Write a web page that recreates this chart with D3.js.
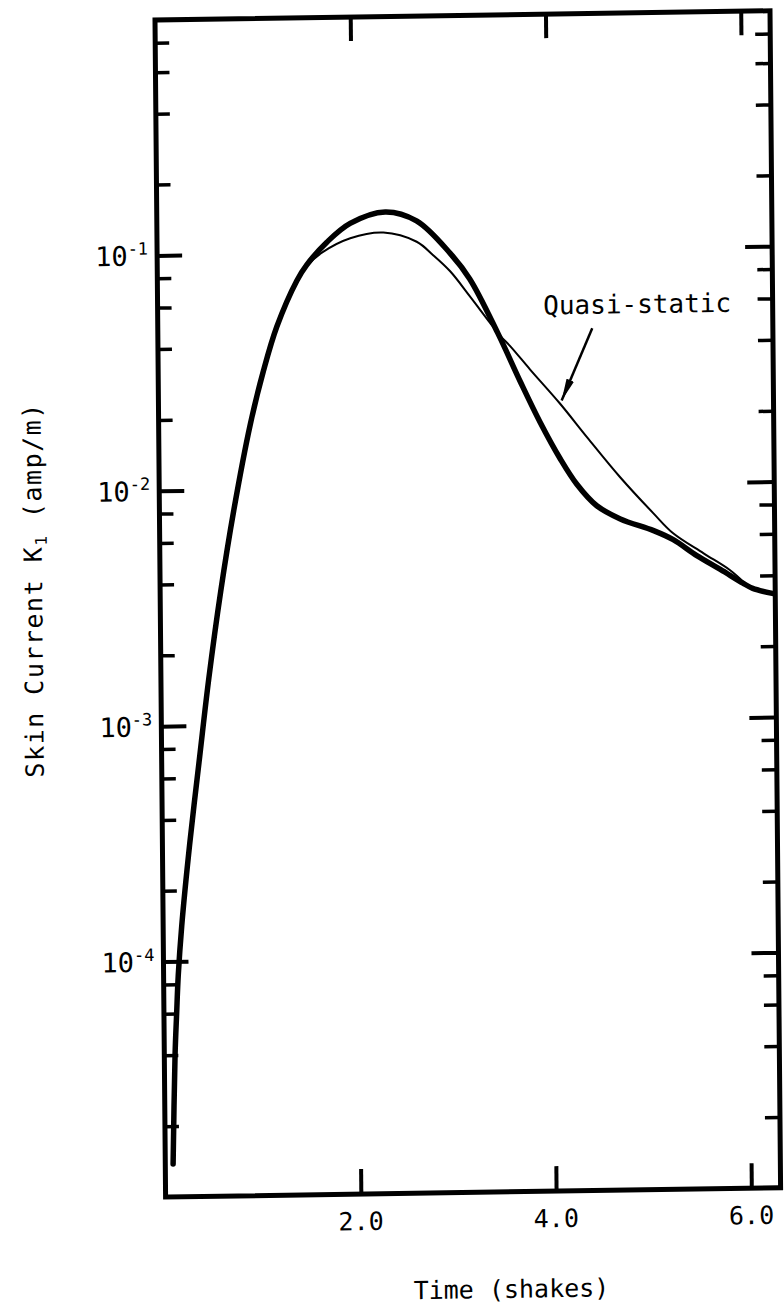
<!DOCTYPE html>
<meta charset="utf-8">
<style>
  body { margin: 0; background: #fff; }
  text { font-family: "DejaVu Sans Mono", monospace; fill: #000; }
  .frame { fill: none; stroke: #000; stroke-width: 5; }
  .major line { stroke: #000; stroke-width: 4; }
  .minor line { stroke: #000; stroke-width: 3.5; }
  .exact { fill: none; stroke: #000; stroke-width: 5.5; stroke-linejoin: round; stroke-linecap: round; }
  .quasi { fill: none; stroke: #000; stroke-width: 2; stroke-linejoin: round; }
</style>

<svg width="784" height="1315"></svg>

<script src="https://d3js.org/d3.v7.min.js"></script>
<script>
  // time in shakes, skin current in amp/m
  var exactT = [0.08, 0.11, 0.13, 0.15, 0.19, 0.28, 0.39, 0.49, 0.62, 0.76, 0.94, 1.08, 1.22, 1.43, 1.53,
    1.74, 1.98, 2.34, 2.66, 3.00, 3.20, 3.48, 3.71, 3.91, 4.11, 4.28, 4.48, 4.72, 5.06, 5.26,
    5.50, 5.74, 5.97, 6.07, 6.27];
  var exactK = [1.38e-5, 4.0e-5, 6.0e-5, 8.7e-5, 1.41e-4, 3.16e-4, 7.4e-4, 1.58e-3, 3.7e-3, 8.1e-3, 1.9e-2, 3.2e-2, 4.9e-2, 7.67e-2, 8.9e-2,
    0.111, 0.133, 0.148, 0.135, 0.098, 0.0759, 0.0447, 0.0275, 0.0184, 0.0129, 0.0100, 0.0081, 0.0071, 0.0063, 0.00575,
    0.0049, 0.00427, 0.00372, 0.00353, 0.00335];

  var quasiT = [0.08, 0.11, 0.13, 0.15, 0.19, 0.28, 0.39, 0.49, 0.62, 0.76, 0.94, 1.08, 1.22, 1.43, 1.53,
    1.70, 1.98, 2.32, 2.66, 2.83, 3.00, 3.20, 3.40, 3.51, 3.61, 3.81, 4.11, 4.39, 4.72, 5.06,
    5.26, 5.57, 5.84, 5.99];
  var quasiK = [1.38e-5, 4.0e-5, 6.0e-5, 8.7e-5, 1.41e-4, 3.16e-4, 7.4e-4, 1.58e-3, 3.7e-3, 8.1e-3, 1.9e-2, 3.2e-2, 4.9e-2, 7.67e-2, 8.8e-2,
    0.101, 0.115, 0.121, 0.110, 0.096, 0.082, 0.064, 0.0495, 0.0432, 0.0390, 0.0310, 0.0222, 0.0158, 0.0107, 0.00746,
    0.00612, 0.00501, 0.00423, 0.00372];

  var xTicks = [2, 4, 6];
  var xTickLabels = ["2.0", "4.0", "6.0"];
  var yDecades = [-1, -2, -3, -4];
  var minorSteps = [2, 4, 6, 8];

  // arrow for the label, in data units
  var arrowFrom = [4.45, 0.046], arrowTo = [4.13, 0.0228];
  var labelAt = [3.95, 0.053];

  var svg = d3.select("svg"),
    width = 615,
    height = 1177;

  // the scanned page sits a little crooked, so the plot frame is sheared to match
  var g = svg.append("g").attr("transform", "matrix(1,-0.015,0.009,1,155,20)");

  var x = d3.scaleLinear().domain([0, 6.3]).range([0, width]);
  var y = d3.scaleLog().domain([1e-5, 1]).range([height, 0]);

  var majorY = yDecades.map(function (e) { return Math.pow(10, e); });
  var minorY = [];
  [-5, -4, -3, -2, -1].forEach(function (e) {
    minorSteps.forEach(function (m) { minorY.push(m * Math.pow(10, e)); });
  });

  function ticks(axis, cls, tx, ty) {
    var a = g.append("g").attr("class", cls)
      .attr("transform", "translate(" + tx + "," + ty + ")")
      .call(axis.tickFormat(""));
    a.select(".domain").remove();
  }

  ticks(d3.axisLeft(y).tickValues(majorY).tickSize(-25), "major", 0, 0);
  ticks(d3.axisLeft(y).tickValues(minorY).tickSize(-14), "minor", 0, 0);
  ticks(d3.axisRight(y).tickValues(majorY).tickSize(-27), "major", width, 0);
  ticks(d3.axisRight(y).tickValues(minorY).tickSize(-15), "minor", width, 0);
  ticks(d3.axisTop(x).tickValues(xTicks).tickSize(-24), "major", 0, 0);
  ticks(d3.axisBottom(x).tickValues(xTicks).tickSize(-25), "major", 0, height);

  // decade labels with superscript exponent
  g.selectAll(".ylab")
    .data(yDecades)
    .enter().append("text")
    .attr("class", "ylab")
    .attr("x", -9)
    .attr("y", function (d) { return y(Math.pow(10, d)) + 10; })
    .attr("text-anchor", "end")
    .style("font-size", "27px")
    .each(function (d) {
      var t = d3.select(this);
      t.append("tspan").text("10");
      t.append("tspan").attr("dy", -11).style("font-size", "17px").text("-" + (-d));
    });

  g.selectAll(".xlab")
    .data(xTicks)
    .enter().append("text")
    .attr("class", "xlab")
    .attr("x", function (d) { return x(d); })
    .attr("y", height + 36)
    .attr("text-anchor", "middle")
    .style("font-size", "25px")
    .text(function (d, i) { return xTickLabels[i]; });

  g.append("text")
    .attr("x", 345)
    .attr("y", height + 106)
    .attr("text-anchor", "middle")
    .style("font-size", "25px")
    .text("Time (shakes)");

  var ytitle = g.append("text")
    .attr("transform", "translate(-118," + 568 + ") rotate(-90)")
    .attr("text-anchor", "middle")
    .style("font-size", "25px")
    .style("letter-spacing", "1.5px");
  ytitle.append("tspan").text("Skin Current K");
  ytitle.append("tspan").attr("dy", 5).style("font-size", "16px").text("1");
  ytitle.append("tspan").attr("dy", -5).text(" (amp/m)");

  g.append("clipPath").attr("id", "plot")
    .append("rect").attr("width", width).attr("height", height);

  var line = d3.line()
    .x(function (d) { return x(d[0]); })
    .y(function (d) { return y(d[1]); })
    .curve(d3.curveCatmullRom.alpha(0.5));

  g.append("path")
    .attr("class", "quasi")
    .attr("clip-path", "url(#plot)")
    .attr("d", line(d3.zip(quasiT, quasiK)));

  g.append("path")
    .attr("class", "exact")
    .attr("clip-path", "url(#plot)")
    .attr("d", line(d3.zip(exactT, exactK)));

  g.append("rect")
    .attr("class", "frame")
    .attr("width", width)
    .attr("height", height);

  svg.append("defs").append("marker")
    .attr("id", "head")
    .attr("markerUnits", "userSpaceOnUse")
    .attr("viewBox", "0 -5 22 10")
    .attr("refX", 22).attr("refY", 0)
    .attr("markerWidth", 22).attr("markerHeight", 10)
    .attr("orient", "auto")
    .append("path").attr("d", "M0,-4L22,0L0,4Z").attr("fill", "#000");

  g.append("line")
    .attr("x1", x(arrowFrom[0])).attr("y1", y(arrowFrom[1]))
    .attr("x2", x(arrowTo[0])).attr("y2", y(arrowTo[1]))
    .attr("stroke", "#000").attr("stroke-width", 2.5)
    .attr("marker-end", "url(#head)");

  g.append("text")
    .attr("x", x(labelAt[0]))
    .attr("y", y(labelAt[1]))
    .style("font-size", "26px")
    .text("Quasi-static");
</script>
